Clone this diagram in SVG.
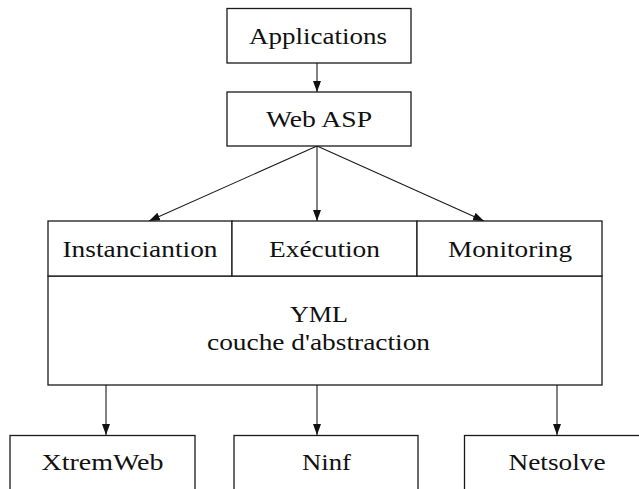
<svg xmlns="http://www.w3.org/2000/svg" width="639" height="489" viewBox="0 0 639 489">
<defs>
<style>
.box{fill:#fff;stroke:#1a1a1a;stroke-width:1.3}
.t{font-family:"Liberation Serif","Times New Roman",serif;font-size:24px;fill:#111;text-anchor:middle}
.c{stroke:#1a1a1a;stroke-width:1.1;fill:none;marker-end:url(#ah)}
</style>
<marker id="ah" markerUnits="userSpaceOnUse" markerWidth="12" markerHeight="9" refX="11" refY="4" orient="auto">
<path d="M0,0 L11,4 L0,8 Z" fill="#111"/>
</marker>
</defs>
<rect width="639" height="489" fill="#fff"/>
<g id="connectors">
<line class="c" x1="317" y1="63" x2="317" y2="92"/>
<line class="c" x1="317" y1="146" x2="149" y2="221"/>
<line class="c" x1="317" y1="146" x2="317" y2="221"/>
<line class="c" x1="317" y1="146" x2="484" y2="221"/>
<line class="c" x1="106" y1="385" x2="106" y2="435"/>
<line class="c" x1="317" y1="385" x2="317" y2="435"/>
<line class="c" x1="557" y1="385" x2="557" y2="435"/>
</g>
<g id="applications">
<rect class="box" x="227" y="8.5" width="184" height="54.5"/>
<text class="t" x="318" y="44" textLength="138" lengthAdjust="spacingAndGlyphs">Applications</text>
</g>
<g id="webasp">
<rect class="box" x="227" y="92" width="184" height="54"/>
<text class="t" x="319" y="127" textLength="106" lengthAdjust="spacingAndGlyphs">Web ASP</text>
</g>
<g id="yml">
<rect class="box" x="48" y="276" width="554" height="109"/>
<text class="t" x="319" y="321.5" textLength="58" lengthAdjust="spacingAndGlyphs">YML</text>
<text class="t" x="318.5" y="350" textLength="223" lengthAdjust="spacingAndGlyphs">couche d'abstraction</text>
</g>
<g id="instanciantion">
<rect class="box" x="48" y="221" width="184" height="55"/>
<text class="t" x="140" y="256.5" textLength="155" lengthAdjust="spacingAndGlyphs">Instanciantion</text>
</g>
<g id="execution">
<rect class="box" x="232" y="221" width="185" height="55"/>
<text class="t" x="324.5" y="256.5" textLength="111" lengthAdjust="spacingAndGlyphs">Exécution</text>
</g>
<g id="monitoring">
<rect class="box" x="417" y="221" width="185" height="55"/>
<text class="t" x="510" y="256.5" textLength="124" lengthAdjust="spacingAndGlyphs">Monitoring</text>
</g>
<g id="xtremweb">
<rect class="box" x="10" y="435.5" width="185" height="70"/>
<text class="t" x="102.5" y="470" textLength="122" lengthAdjust="spacingAndGlyphs">XtremWeb</text>
</g>
<g id="ninf">
<rect class="box" x="234" y="435.5" width="184" height="70"/>
<text class="t" x="326.5" y="470" textLength="49" lengthAdjust="spacingAndGlyphs">Ninf</text>
</g>
<g id="netsolve">
<rect class="box" x="464.5" y="435.5" width="186" height="70"/>
<text class="t" x="557" y="470" textLength="97" lengthAdjust="spacingAndGlyphs">Netsolve</text>
</g>
</svg>
